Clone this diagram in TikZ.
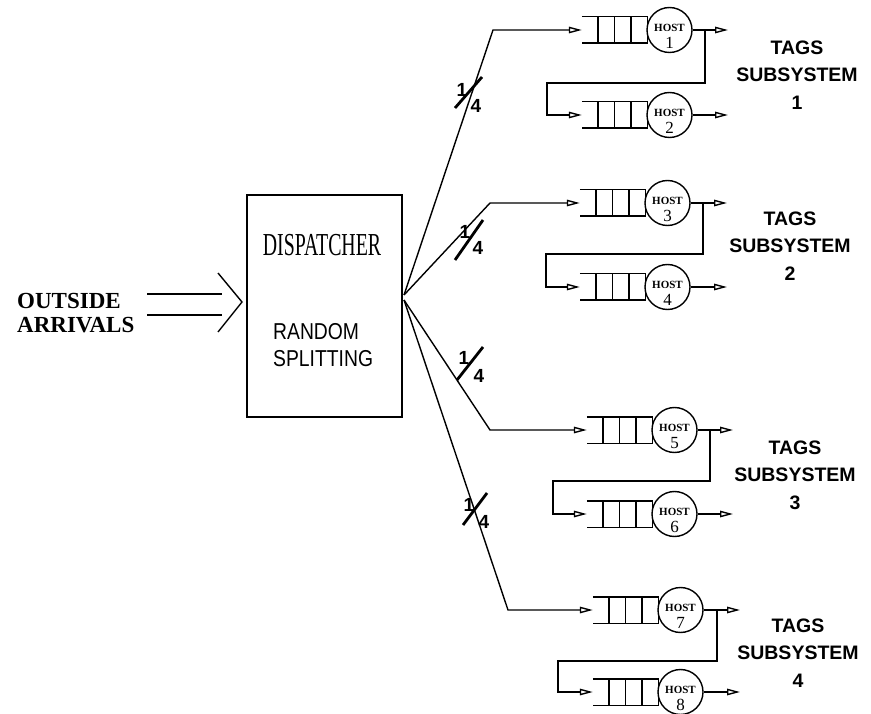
\documentclass[tikz,border=0pt]{standalone}
\usepackage{fontspec}
\setmainfont{Liberation Serif}
\setsansfont{Liberation Sans}
\usetikzlibrary{arrows.meta,calc}
\tikzset{
  ln/.style={line width=1.4pt},
  arr/.style={ln,-{Triangle[open,length=13pt,width=6.5pt]}},
  qnode/.style={minimum width=65pt,minimum height=26pt,inner sep=0pt,draw=none},
  qline/.style={ln},
  host/.style={circle,draw,ln,minimum size=45pt,inner sep=0pt,fill=white},
  hosttxt/.style={inner sep=0pt,font=\fontsize{11}{11}\selectfont\bfseries},
  hostnum/.style={inner sep=0pt,font=\fontsize{17}{17}\selectfont},
  tags/.style={align=center,inner sep=0pt,font=\fontsize{19.5}{27.5}\selectfont\sffamily\bfseries},
  frac/.style={inner sep=0pt,font=\fontsize{19}{19}\selectfont\sffamily\bfseries},
  slash/.style={line width=2.8pt},
}
\newcommand\mkqueue[3]{%
  \node[qnode] (#1) at (#2+32.5,#3) {};
  \draw[qline] (#1.north west) -- (#1.north east) -- (#1.south east) -- (#1.south west);
  \foreach \f in {0.25,0.5,0.75}
    \draw[qline] ($(#1.north west)!\f!(#1.north east)$) -- ($(#1.south west)!\f!(#1.south east)$);
}
\newcommand\mkhost[4]{%
  \node[host] (#1) at (#2,#3) {};
  \node[hosttxt] (#1t) at (#2,#3-2) {HOST};
  \node[hostnum] (#1n) at (#2,#3+13) {#4};
}
\begin{document}
\begin{tikzpicture}[x=1pt,y=-1pt]
\useasboundingbox (0,0) rectangle (871,714);

% outside arrivals
\node[anchor=west,inner sep=0pt,align=left,font=\fontsize{23}{24}\selectfont\bfseries] (oa) at (17,313) {OUTSIDE\\ARRIVALS};
\coordinate (i1s) at (147,294); \coordinate (i1e) at (222,294);
\coordinate (i2s) at (147,315); \coordinate (i2e) at (222,315);
\draw[ln] (i1s) -- (i1e);
\draw[ln] (i2s) -- (i2e);
\coordinate (ch1) at (218,273); \coordinate (ch2) at (242,302); \coordinate (ch3) at (218,332);
\draw[ln] (ch1) -- (ch2) -- (ch3);

% dispatcher
\node[draw,ln,minimum width=155pt,minimum height=222pt,inner sep=0pt] (disp) at (324.5,306) {};
\node[inner sep=0pt,font=\fontsize{32}{32}\selectfont] (dt) at (322,245) {\scalebox{0.62}[1]{DISPATCHER}};
\node[anchor=west,inner sep=0pt,align=left,font=\fontsize{23}{27}\selectfont\sffamily] (rs) at (273,345) {\scalebox{0.84}[1]{RANDOM}\\\scalebox{0.84}[1]{SPLITTING}};

\coordinate (d1) at (404,295);
\coordinate (d2) at (404,300);

% subsystems
\foreach \k/\xq/\ya/\yb/\xv/\yh/\xl/\xt/\na/\nb/\xs/\ys in
  {1/582/30/115/705/83/547/728/1/2/797/75,
   2/580/203/287/703/254/546/727/3/4/790/246,
   3/587/430/514/710/481/553/733/5/6/795/475,
   4/593/610/692/717/661/558/740/7/8/798/653}{
  \mkqueue{q\na}{\xq}{\ya}
  \mkqueue{q\nb}{\xq}{\yb}
  \mkhost{h\na}{\xq+87.5}{\ya}{\na}
  \mkhost{h\nb}{\xq+87.5}{\yb}{\nb}
  \coordinate (o\na) at (\xt,\ya);
  \coordinate (o\nb) at (\xt,\yb);
  \draw[arr] (h\na) -- (o\na);
  \draw[arr] (h\nb) -- (o\nb);
  \coordinate (j\k) at (\xv,\ya);
  \coordinate (k\k) at (\xl,\yh);
  \draw[arr] (j\k) |- (k\k) |- (q\nb.west);
  \node[tags] (t\k) at (\xs,\ys) {TAGS\\SUBSYSTEM\\\k};
}

% fan-out
\coordinate (c1) at (493,30);
\coordinate (c2) at (490,203);
\coordinate (c3) at (490,430);
\coordinate (c4) at (508,610);
\draw[arr] (d1) -- (c1) -- (q1.west);
\draw[arr] (d1) -- (c2) -- (q3.west);
\draw[arr] (d2) -- (c3) -- (q5.west);
\draw[arr] (d2) -- (c4) -- (q7.west);

% fractions
\foreach \m/\ax/\ay/\bx/\by/\ox/\oy/\fx/\fy in
  {1/455/108/482/77/462/90/476/106,
   2/455/260/483/220/465/232/478/248,
   3/457/380/483/347/464/358/479/376,
   4/463/525/487/493/469/505/484/522}{
  \coordinate (sa\m) at (\ax,\ay);
  \coordinate (sb\m) at (\bx,\by);
  \draw[slash] (sa\m) -- (sb\m);
  \node[frac] (fn\m) at (\ox,\oy) {1};
  \node[frac] (fd\m) at (\fx,\fy) {4};
}
\end{tikzpicture}
\end{document}
